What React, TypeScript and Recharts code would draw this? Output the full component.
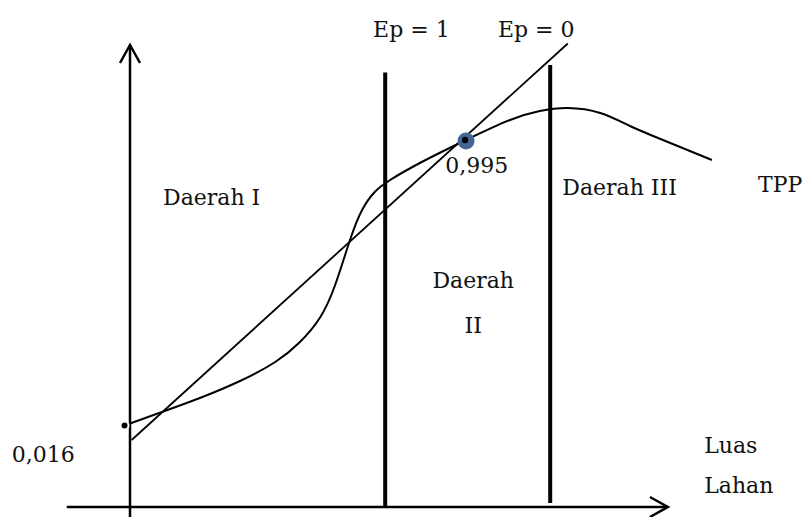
import { ComposedChart, Line, XAxis, YAxis, ReferenceLine, ReferenceDot } from "recharts";

const FONT = "'DejaVu Serif', serif";

// x = luas lahan, y = produksi (arbitrary units)
const tppX = [-0.1, 0.58, 1.27, 2.0, 2.64, 3.09, 3.45, 3.73, 4.0, 4.22, 4.45, 4.73, 5.27, 6.11, 6.91, 7.45, 7.96, 8.55, 9.09, 9.69, 10.58];
const tppY = [1.63, 1.9, 2.18, 2.52, 2.9, 3.3, 3.78, 4.44, 5.34, 5.94, 6.3, 6.54, 6.88, 7.34, 7.74, 7.92, 7.98, 7.88, 7.62, 7.34, 6.94];

const tangentX = [0.03, 7.96];
const tangentY = [1.34, 9.27];

// boundary lines: Ep = 1 and Ep = 0
const boundX = [4.64, 7.64];
const boundTop = [8.69, 8.84];
const boundBottom = [0, 0.08];

const optimumX = 6.11;
const optimumY = 7.32;

const labelText = ["Ep = 1", "Ep = 0", "Daerah I", "TPP", "Daerah III", "Daerah", "II", "0,995", "0,016", "Luas", "Lahan"];
const labelX = [4.42, 6.69, 0.6, 11.42, 7.86, 6.24, 6.24, 5.73, -2.15, 10.44, 10.44];
const labelY = [9.4, 9.4, 6.04, 6.3, 6.24, 4.38, 3.48, 6.68, 0.9, 1.08, 0.28];
const labelAnchor = ["start", "start", "start", "start", "start", "middle", "middle", "start", "start", "start", "start"];

const tppData = tppX.map((x, i) => ({ x, y: tppY[i] }));
const tangentData = tangentX.map((x, i) => ({ x, y: tangentY[i] }));

function Arrow(props: any) {
  const { x1, y1, x2, y2 } = props;
  const ang = Math.atan2(y2 - y1, x2 - x1);
  const len = 18;
  const half = 10;
  const bx = x2 - len * Math.cos(ang);
  const by = y2 - len * Math.sin(ang);
  const nx = -Math.sin(ang);
  const ny = Math.cos(ang);
  return (
    <g>
      <line x1={x1} y1={y1} x2={x2} y2={y2} stroke="#000" strokeWidth={2.5} />
      <polyline
        points={`${bx + nx * half},${by + ny * half} ${x2},${y2} ${bx - nx * half},${by - ny * half}`}
        fill="none"
        stroke="#000"
        strokeWidth={2.5}
      />
    </g>
  );
}

export default function App() {
  return (
    <div style={{ position: "absolute", left: 0, top: 0, background: "#fff" }}>
      <ComposedChart width={806} height={517} margin={{ top: 0, right: 0, bottom: 0, left: 0 }}>
        <XAxis type="number" dataKey="x" domain={[-130 / 55, 676 / 55]} allowDataOverflow hide />
        <YAxis type="number" dataKey="y" domain={[-0.2, 10.14]} allowDataOverflow hide />

        <Line data={tangentData} dataKey="y" type="linear" stroke="#000" strokeWidth={1.8} dot={false} isAnimationActive={false} />
        <Line data={tppData} dataKey="y" type="natural" stroke="#000" strokeWidth={2} dot={false} isAnimationActive={false} />

        <ReferenceLine segment={[{ x: 0, y: -0.2 }, { x: 0, y: 9.24 }]} ifOverflow="visible" shape={Arrow} />
        <ReferenceLine segment={[{ x: -1.15, y: 0 }, { x: 9.78, y: 0 }]} ifOverflow="visible" shape={Arrow} />

        {boundX.map((x, i) => (
          <ReferenceLine
            key={i}
            segment={[{ x, y: boundBottom[i] }, { x, y: boundTop[i] }]}
            stroke="#000"
            strokeWidth={4}
            ifOverflow="visible"
          />
        ))}

        <ReferenceDot
          x={optimumX}
          y={optimumY}
          r={9}
          ifOverflow="visible"
          shape={(p: any) => (
            <g>
              <circle cx={p.cx} cy={p.cy} r={8.5} fill="#426795" />
              <circle cx={p.cx - 1} cy={p.cy - 1} r={3.2} fill="#000" />
            </g>
          )}
        />

        {labelText.map((t, i) => (
          <ReferenceDot
            key={t}
            x={labelX[i]}
            y={labelY[i]}
            r={0}
            ifOverflow="visible"
            shape={(p: any) => (
              <text x={p.cx} y={p.cy} textAnchor={labelAnchor[i]} fontFamily={FONT} fontSize={22} fill="#111">
                {t}
              </text>
            )}
          />
        ))}
      </ComposedChart>
    </div>
  );
}
